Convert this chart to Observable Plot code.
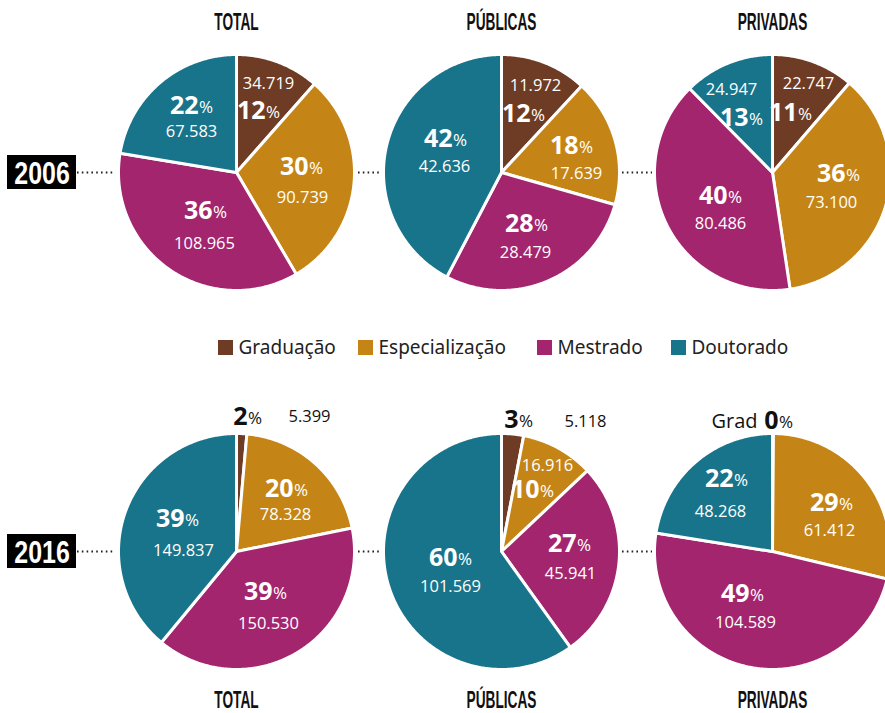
<!DOCTYPE html>
<html><head><meta charset="utf-8">
<script src="https://cdn.jsdelivr.net/npm/d3@7"></script>
<script src="https://cdn.jsdelivr.net/npm/@observablehq/plot@0.6"></script>
<style>body{margin:0;background:#fff}</style>
</head><body><div id="chart"></div>
<script>
// ---- data ----
const categories = ["Graduação", "Especialização", "Mestrado", "Doutorado"];
const colors = ["#6e3b24", "#c58516", "#a3256e", "#18748a"];
const years = ["2006", "2016"];
const groups = ["TOTAL", "PÚBLICAS", "PRIVADAS"];

const total2006 = [34719, 90739, 108965, 67583];
const publicas2006 = [11972, 17639, 28479, 42636];
const privadas2006 = [22747, 73100, 80486, 24947];
const total2016 = [5399, 78328, 150530, 149837];
const publicas2016 = [5118, 16916, 45941, 101569];
const privadas2016 = [281, 61412, 104589, 48268];

const pctTotal2006 = [12, 30, 36, 22];
const pctPublicas2006 = [12, 18, 28, 42];
const pctPrivadas2006 = [11, 36, 40, 13];
const pctTotal2016 = [2, 20, 39, 39];
const pctPublicas2016 = [3, 10, 27, 60];
const pctPrivadas2016 = [0, 29, 49, 22];

// ---- layout (positions / styles) ----
const W = 885, H = 713, R = 118;
const cx = {"TOTAL": 236, "PÚBLICAS": 501, "PRIVADAS": 772};
const cy = {"2006": 172, "2016": 551};
// label offsets per slice: [pct dx, pct dy, num dx, num dy, outside]
const labelLayout = {
  "2006-TOTAL":    [[29,-62,32,-89,0],[72,-6,66,25,0],[-24,38,-32,71,0],[-38,-67,-45,-41,0]],
  "2006-PÚBLICAS": [[29,-59,34,-87,0],[77,-27,75,1,0],[32,51,24,80,0],[-49,-34,-57,-6,0]],
  "2006-PRIVADAS": [[25,-60,36,-89,0],[73,1,59,30,0],[-45,23,-52,51,0],[-24,-55,-41,-83,0]],
  "2016-TOTAL":    [[11,-135,73,-135,1],[57,-63,49,-37,0],[36,40,32,72,0],[-52,-33,-53,-1,0]],
  "2016-PÚBLICAS": [[17,-132,84,-130,1],[38,-62,46,-86,0],[75,-8,69,22,0],[-44,6,-51,35,0]],
  "2016-PRIVADAS": [[6,-131,null,null,2],[66,-49,57,-21,0],[-23,42,-27,71,0],[-39,-73,-52,-40,0]]
};
const legendX = [218, 358, 537, 671];
const dotSegments = [[77,115],[358,381],[622,652]];

const pies = [
  {year: "2006", group: "TOTAL", values: total2006, pcts: pctTotal2006},
  {year: "2006", group: "PÚBLICAS", values: publicas2006, pcts: pctPublicas2006},
  {year: "2006", group: "PRIVADAS", values: privadas2006, pcts: pctPrivadas2006},
  {year: "2016", group: "TOTAL", values: total2016, pcts: pctTotal2016},
  {year: "2016", group: "PÚBLICAS", values: publicas2016, pcts: pctPublicas2016},
  {year: "2016", group: "PRIVADAS", values: privadas2016, pcts: pctPrivadas2016}
];

const fmt = d3.formatLocale({decimal: ",", thousands: ".", grouping: [3], currency: ["", ""]}).format(",d");

// slice outlines derived from the values
const slicePts = [];
const pctLabels = [], numLabels = [], prefixLabels = [];
pies.forEach((p, pi) => {
  const X = cx[p.group], Y = cy[p.year];
  const arcs = d3.pie().sort(null).value(d => d)(p.values);
  arcs.forEach((a, i) => {
    const key = pi + "-" + i, cat = categories[i];
    slicePts.push({key, cat, x: X, y: Y});
    const n = Math.max(2, Math.ceil((a.endAngle - a.startAngle) / 0.01));
    for (let k = 0; k <= n; k++) {
      const t = a.startAngle + (a.endAngle - a.startAngle) * k / n;
      slicePts.push({key, cat, x: X + R * Math.sin(t), y: Y - R * Math.cos(t)});
    }
    slicePts.push({key, cat, x: X, y: Y});
    const L = labelLayout[p.year + "-" + p.group][i];
    const out = L[4];
    pctLabels.push({x: X + L[0], y: Y + L[1], text: String(p.pcts[i]), out});
    if (L[2] != null) numLabels.push({x: X + L[2], y: Y + L[3], text: fmt(p.values[i]), out});
    if (out === 2) prefixLabels.push({x: X + L[0] - 21, y: Y + L[1], text: "Grad"});
  });
});

const dots = [];
years.forEach(y => dotSegments.forEach(s => dots.push({y: cy[y], x1: s[0], x2: s[1]})));

const F = "'Open Sans', 'Noto Sans', sans-serif";
const HF = "'Liberation Sans', Arimo, 'DejaVu Sans', sans-serif";
const chart = Plot.plot({
  width: W, height: H, margin: 0,
  x: {domain: [0, W], range: [0, W], axis: null},
  y: {domain: [0, H], range: [0, H], axis: null},
  color: {domain: categories, range: colors},
  style: {fontFamily: F, background: "#fff"},
  marks: [
    Plot.line(slicePts, {x: "x", y: "y", z: "key", fill: "cat", stroke: "white", strokeWidth: 3, strokeLinejoin: "round", curve: "linear"}),
    // dotted leaders
    Plot.ruleY(dots, {y: "y", x1: "x1", x2: "x2", stroke: "#222", strokeWidth: 2, strokeDasharray: "1.6 3.2"}),
    // year boxes
    Plot.rect(years, {x1: () => 7, x2: () => 76, y1: d => cy[d] - 17, y2: d => cy[d] + 17, fill: "black"}),
    Plot.text(years, {x: d => 41.5, y: d => cy[d] + 1, text: d => d, fill: "white", fontSize: 32, fontWeight: "bold", fontFamily: HF}),
    // group titles
    Plot.text(groups, {x: d => cx[d], y: d => 22, text: d => d, fill: "#111", fontSize: 24, fontWeight: "bold", fontFamily: HF}),
    Plot.text(groups, {x: d => cx[d], y: d => 700, text: d => d, fill: "#111", fontSize: 24, fontWeight: "bold", fontFamily: HF}),
    // legend
    Plot.rect(categories, {x1: (d, i) => legendX[i], x2: (d, i) => legendX[i] + 15, y1: () => 340, y2: () => 355, fill: d => d}),
    Plot.text(categories, {x: (d, i) => legendX[i] + 20, y: () => 347, text: d => d, textAnchor: "start", fill: "#222", fontSize: 19, fontFamily: "'Noto Sans', sans-serif"}),
    // slice labels
    Plot.text(pctLabels, {x: "x", y: "y", text: "text", textAnchor: "end", fill: d => d.out ? "#111" : "white", fontSize: 25, fontWeight: 700}),
    Plot.text(pctLabels, {x: "x", y: "y", text: () => "%", textAnchor: "start", dx: 0.5, dy: 2.5, fill: d => d.out ? "#111" : "white", fontSize: 17, fontWeight: 400}),
    Plot.text(numLabels, {x: "x", y: "y", text: "text", fill: d => d.out ? "#111" : "white", fontSize: 16.5, fontWeight: d => d.out ? 600 : 500}),
    Plot.text(prefixLabels, {x: "x", y: "y", text: "text", textAnchor: "end", dy: 1.5, fill: "#111", fontSize: 20, fontWeight: 400})
  ]
});
// condense the headline font (narrow display face): append a horizontal scale
chart.querySelectorAll("text").forEach(el => {
  const s = el.textContent;
  const k = groups.includes(s) ? 0.57 : years.includes(s) ? 0.78 : null;
  if (k == null) return;
  const t = el.getAttribute("transform");
  if (t) {
    el.setAttribute("transform", `${t} scale(${k},1)`);
  } else {
    const x = parseFloat(el.getAttribute("x")) || 0;
    el.removeAttribute("x");
    el.setAttribute("transform", `translate(${x},0) scale(${k},1)`);
  }
});
document.getElementById("chart").appendChild(chart);
</script>
</body></html>
